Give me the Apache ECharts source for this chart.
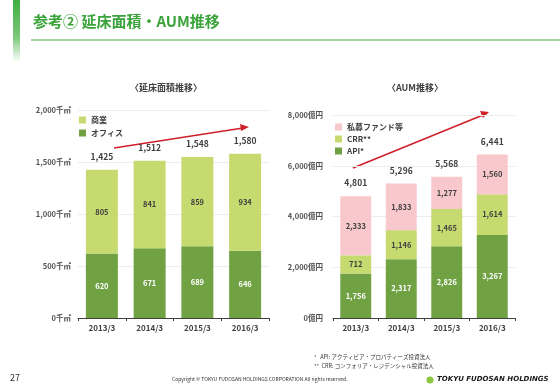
<!DOCTYPE html>
<html><head><meta charset="utf-8">
<script src="https://cdn.jsdelivr.net/npm/echarts@6/dist/echarts.min.js"></script>
<style>html,body{margin:0;padding:0;background:#fff}#c{width:560px;height:388px}</style>
</head><body><div id="c"></div>
<script>
const categories = ['2013/3','2014/3','2015/3','2016/3'];
// 延床面積 (千㎡)
const office = [620, 671, 689, 646];
const commercial = [805, 841, 859, 934];
const floorTotals = [1425, 1512, 1548, 1580];
const floorTicks = [0, 500, 1000, 1500, 2000];
// AUM (億円)
const api = [1756, 2317, 2826, 3267];
const crr = [712, 1146, 1465, 1614];
const privateFund = [2333, 1833, 1277, 1560];
const aumTotals = [4801, 5296, 5568, 6441];
const aumTicks = [0, 2000, 4000, 6000, 8000];

const FONT = '"Noto Sans CJK JP", "Noto Sans", sans-serif';
const C_DARK = '#70a244', C_LIGHT = '#c6da70', C_PINK = '#f8c8cc';
const fmt = v => v.toLocaleString('en-US');

const chart = echarts.init(document.getElementById('c'));
const lblDark = {show:true, position:'inside', color:'#fff', fontSize:7.5, fontWeight:'bold', fontFamily:FONT, formatter:p=>fmt(p.value)};
const lblLight = {show:true, position:'inside', color:'#404040', fontSize:7.5, fontWeight:'bold', fontFamily:FONT, formatter:p=>fmt(p.value)};
const totalLbl = arr => ({show:true, position:'top', distance:9, color:'#404040', fontSize:8.5, fontWeight:'bold', fontFamily:FONT, formatter:p=>fmt(arr[p.dataIndex])});

function yAx(idx, max, interval, unit, margin){
  return {gridIndex:idx, type:'value', min:0, max:max, interval:interval,
    axisLine:{show:false}, axisTick:{show:false},
    splitLine:{lineStyle:{color:'#ececec', width:1}},
    axisLabel:{fontSize:7.5, color:'#505050', fontWeight:'bold', fontFamily:FONT, margin:margin, formatter:v=>fmt(v)+unit}};
}
function xAx(idx){
  return {gridIndex:idx, type:'category', data:categories,
    axisLine:{lineStyle:{color:'#404040', width:1}},
    axisTick:{show:true, lineStyle:{color:'#404040'}, length:3},
    axisLabel:{fontSize:8, color:'#404040', fontWeight:'bold', fontFamily:FONT, margin:6}};
}

chart.setOption({
  animation:false,
  textStyle:{fontFamily:FONT},
  grid:[
    {left:78, top:110, width:191, height:208},
    {left:333, top:115, width:182, height:203}
  ],
  xAxis:[xAx(0), xAx(1)],
  yAxis:[yAx(0, floorTicks[4], 500, '千㎡', 7), yAx(1, aumTicks[4], 2000, '億円', 10)],
  legend:[
    {data:['商業','オフィス'], orient:'vertical', left:74, top:111, itemWidth:7, itemHeight:7, itemGap:5,
     textStyle:{fontSize:8, color:'#404040', fontWeight:'bold', fontFamily:FONT}, icon:'rect', selectedMode:false},
    {data:['私募ファンド等','CRR**','API*'], orient:'vertical', left:330, top:118, itemWidth:7, itemHeight:7, itemGap:4,
     textStyle:{fontSize:8, color:'#404040', fontWeight:'bold', fontFamily:FONT}, icon:'rect', selectedMode:false}
  ],
  series:[
    {name:'オフィス', type:'bar', stack:'a', xAxisIndex:0, yAxisIndex:0, data:office, barWidth:'67%', itemStyle:{color:C_DARK}, label:lblDark},
    {name:'商業', type:'bar', stack:'a', xAxisIndex:0, yAxisIndex:0, data:commercial, barWidth:'67%', itemStyle:{color:C_LIGHT}, label:lblLight},
    {name:'合計1', type:'bar', stack:'a', xAxisIndex:0, yAxisIndex:0, data:floorTotals.map(()=>0), barWidth:'67%', itemStyle:{color:'transparent'}, label:totalLbl(floorTotals), silent:true},
    {name:'API*', type:'bar', stack:'b', xAxisIndex:1, yAxisIndex:1, data:api, barWidth:'68%', itemStyle:{color:C_DARK}, label:lblDark},
    {name:'CRR**', type:'bar', stack:'b', xAxisIndex:1, yAxisIndex:1, data:crr, barWidth:'68%', itemStyle:{color:C_LIGHT}, label:lblLight},
    {name:'私募ファンド等', type:'bar', stack:'b', xAxisIndex:1, yAxisIndex:1, data:privateFund, barWidth:'68%', itemStyle:{color:C_PINK}, label:lblLight},
    {name:'合計2', type:'bar', stack:'b', xAxisIndex:1, yAxisIndex:1, data:aumTotals.map(()=>0), barWidth:'68%', itemStyle:{color:'transparent'}, label:totalLbl(aumTotals), silent:true}
  ],
  graphic:[
    {type:'rect', shape:{x:13, y:0, width:7, height:62}, style:{fill:new echarts.graphic.LinearGradient(0,0,0,1,[{offset:0,color:'#3fae3f'},{offset:0.6,color:'#7cc77c'},{offset:1,color:'#ffffff'}])}},
    {type:'text', left:33, top:14, style:{text:'参考② 延床面積・AUM推移', fontSize:15, fontWeight:'bold', fill:'#3aa33a', fontFamily:FONT}},
    {type:'rect', shape:{x:31, y:39, width:529, height:2}, style:{fill:'#a3d6a0'}},
    {type:'text', x:166, y:88, style:{text:'〈延床面積推移〉', fontSize:9, fontWeight:'bold', fill:'#404040', fontFamily:FONT, align:'center', verticalAlign:'middle'}},
    {type:'text', x:415, y:88, style:{text:'〈AUM推移〉', fontSize:9, fontWeight:'bold', fill:'#404040', fontFamily:FONT, align:'center', verticalAlign:'middle'}},
    {type:'line', shape:{x1:114, y1:148, x2:243, y2:128}, style:{stroke:'#d0202a', lineWidth:1.6}},
    {type:'polygon', shape:{points:[[249,127],[240,124],[241,131]]}, style:{fill:'#d0202a'}},
    {type:'line', shape:{x1:353, y1:168, x2:483, y2:115}, style:{stroke:'#d0202a', lineWidth:1.6}},
    {type:'polygon', shape:{points:[[489,112],[480,111],[483,118]]}, style:{fill:'#d0202a'}},
    {type:'text', left:314, top:354, style:{text:'*   API: アクティビア・プロパティーズ投資法人', fontSize:5.5, fill:'#333', fontFamily:FONT}},
    {type:'text', left:314, top:363, style:{text:'**  CRR: コンフォリア・レジデンシャル投資法人', fontSize:5.5, fill:'#333', fontFamily:FONT}},
    {type:'text', left:10, top:373, style:{text:'27', fontSize:9, fill:'#333', fontFamily:FONT}},
    {type:'text', left:172, top:377, style:{text:'Copyright © TOKYU FUDOSAN HOLDINGS CORPORATION All rights reserved.', fontSize:5, fill:'#333', fontFamily:FONT}},
    {type:'circle', shape:{cx:430, cy:380, r:3.5}, style:{fill:'#8cc63f'}},
    {type:'text', left:437, top:376, style:{text:'TOKYU FUDOSAN HOLDINGS', fontSize:7, fontWeight:'bold', fontStyle:'italic', fill:'#1a1a1a', fontFamily:'"DejaVu Sans", sans-serif'}}
  ]
});
</script></body></html>
